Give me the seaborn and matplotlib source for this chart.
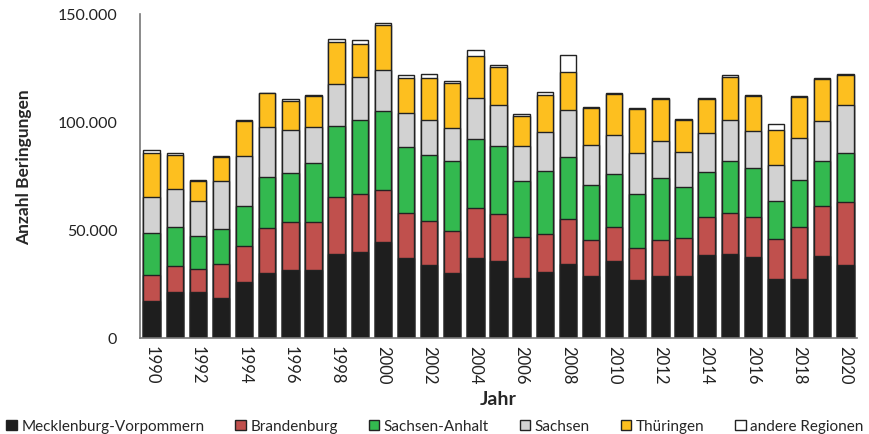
import matplotlib
matplotlib.use("Agg")
import matplotlib.pyplot as plt
from matplotlib.patches import Patch
from matplotlib.ticker import FuncFormatter, FixedLocator
import numpy as np
import pandas as pd
import seaborn as sns

years = list(range(1990, 2021))

mecklenburg = [17000, 21500, 21100, 18500, 25800, 30100, 31600, 31600, 39000, 39800,
               44600, 36900, 34000, 30100, 37000, 35500, 27800, 30400, 34400, 28700,
               35500, 26700, 28600, 28600, 38300, 38900, 37300, 27300, 27200, 38000, 33600]
brandenburg = [12300, 11900, 10700, 15700, 16700, 20700, 22200, 21900, 26100, 26900,
               23900, 21100, 20200, 19600, 23000, 21800, 18800, 17700, 20700, 16800,
               15900, 15000, 16800, 17600, 17600, 19000, 18500, 18700, 24100, 23300, 29300]
sachsen_anhalt = [19100, 18100, 15400, 16400, 18700, 23900, 22800, 27300, 33200, 34400,
                  36600, 30400, 30500, 32100, 31900, 31600, 25900, 29200, 28700, 25300,
                  24500, 25000, 28700, 23500, 21100, 24100, 22700, 17600, 21900, 20400, 22800]
sachsen = [17000, 17300, 16000, 22100, 23200, 22800, 19900, 17000, 19300, 19900,
           19000, 15700, 16100, 15600, 19100, 19100, 16200, 18200, 21800, 18700,
           18100, 18700, 17300, 16500, 17700, 18800, 17400, 16700, 19600, 18800, 22100]
thueringen = [20200, 15700, 9600, 11300, 16200, 15700, 13300, 14200, 19600, 15300,
              20800, 16400, 19600, 20700, 19400, 17400, 14000, 17000, 17600, 17000,
              19000, 20500, 19400, 14700, 15700, 20100, 15900, 15900, 18800, 19300, 13900]
andere = [1500, 900, 300, 300, 300, 300, 900, 300, 1200, 1500,
          1100, 1100, 1700, 900, 2800, 900, 800, 1400, 7600, 300,
          500, 500, 500, 400, 500, 600, 600, 2800, 500, 500, 500]

series_names = ["Mecklenburg-Vorpommern", "Brandenburg", "Sachsen-Anhalt",
                "Sachsen", "Thüringen", "andere Regionen"]
series_values = [mecklenburg, brandenburg, sachsen_anhalt, sachsen, thueringen, andere]
colors = ["#1e1e1e", "#c0504d", "#33b94f", "#d2d2d2", "#fdbf1f", "#ffffff"]

sns.set_theme(style="white")
plt.rcParams["font.family"] = ["Lato", "DejaVu Sans"]

df = pd.DataFrame({"Jahr": [str(y) for y in years]})
cum = np.zeros(len(years))
for name, vals in zip(series_names, series_values):
    cum = cum + np.array(vals)
    df[name] = cum

fig = plt.figure(figsize=(8.7, 4.35), dpi=100)
ax = fig.add_axes([0.161, 0.2207, 0.824, 0.745])

# draw cumulative totals from the top layer down so each segment shows its share
for name, color in reversed(list(zip(series_names, colors))):
    sns.barplot(data=df, x="Jahr", y=name, color=color, ax=ax, width=0.71,
                edgecolor="#222222", linewidth=1.0, saturation=1)

ax.set_ylim(0, 150000)
ax.set_xlim(-0.5, len(years) - 0.5)
ax.set_yticks([0, 50000, 100000, 150000])
ax.yaxis.set_major_formatter(FuncFormatter(lambda v, p: f"{int(v):,}".replace(",", ".")))

label_pos = [i for i, y in enumerate(years) if y % 2 == 0]
ax.xaxis.set_major_locator(FixedLocator(label_pos))
ax.set_xticklabels([str(years[i]) for i in label_pos], rotation=-90)
ax.xaxis.set_minor_locator(FixedLocator(np.arange(-0.5, len(years), 1.0)))
ax.tick_params(axis="x", which="major", length=0, pad=5, labelsize=12, colors="#222222")
ax.tick_params(axis="x", which="minor", length=4, width=1, color="#555555", direction="out")
ax.tick_params(axis="y", which="major", length=3.5, width=1, color="#555555", direction="out",
               labelsize=11.5, pad=13)
ax.tick_params(axis="y", colors="#555555", labelcolor="#222222")

for s in ["top", "right"]:
    ax.spines[s].set_visible(False)
for s in ["left", "bottom"]:
    ax.spines[s].set_color("#777777")
    ax.spines[s].set_linewidth(1.2)

ax.set_xlabel("Jahr", fontsize=14, fontweight="bold", labelpad=5)
ax.set_ylabel("Anzahl Beringungen", fontsize=12.5, fontweight="bold", labelpad=10)
ax.yaxis.set_label_coords(-0.15, 0.53)

handles = [Patch(facecolor=c, edgecolor="#222222", linewidth=1.0) for c in colors]
fig.legend(handles, series_names, loc="lower center", bbox_to_anchor=(0.5, -0.03),
           ncol=6, frameon=False, fontsize=11, handlelength=0.7, handleheight=0.7,
           handletextpad=0.3, columnspacing=2.0)

fig.savefig("out.png", dpi=100)
